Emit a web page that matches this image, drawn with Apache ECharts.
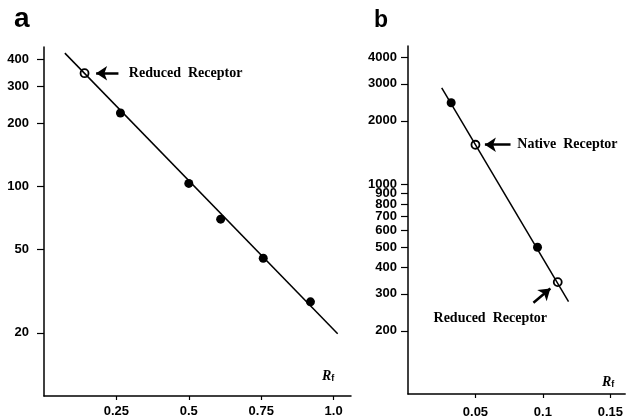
<!DOCTYPE html>
<html>
<head>
<meta charset="utf-8">
<script src="https://cdn.jsdelivr.net/npm/echarts@6/dist/echarts.min.js"></script>
<style>
  html, body { margin: 0; padding: 0; background: #fff; }
  #chart { width: 626px; height: 419px; }
</style>
</head>
<body>
<div id="chart"></div>
<script>
// panel a: Rf vs molecular weight (log)
const rfA = [0.264, 0.50, 0.61, 0.757, 0.92];
const mwA = [223, 103, 69.6, 45.3, 28.1];
const rfAOpen = [0.14];
const mwAOpen = [345];
const fitRfA = [0.072, 1.014];
const fitMwA = [430, 19.8];
const yTicksA = [20, 50, 100, 200, 300, 400];
const xTicksA = [0.25, 0.5, 0.75, 1.0];

// panel b
const rfB = [0.032, 0.096];
const mwB = [2437, 500];
const rfBOpen = [0.050, 0.111];
const mwBOpen = [1538, 341];
const fitRfB = [0.025, 0.119];
const fitMwB = [2870, 275];
const yTicksB = [200, 300, 400, 500, 600, 700, 800, 900, 1000, 2000, 3000, 4000];
const xTicksB = [0.05, 0.1, 0.15];

const zip = (a, b) => a.map((v, i) => [v, b[i]]);

const labelFont = {
    color: '#000',
    fontFamily: 'Liberation Sans',
    fontWeight: 'bold',
    fontSize: 13
};
const noteFont = {
    color: '#000',
    fontFamily: 'Liberation Serif',
    fontWeight: 'bold',
    fontSize: 14
};
const axisLine = {show: true, onZero: false, lineStyle: {color: '#000', width: 1.5}};

function xAxis(grid, max, ticks, margin) {
    return {
        type: 'value', gridIndex: grid, min: 0, max: max,
        axisLine: axisLine,
        splitLine: {show: false},
        axisTick: {show: true, length: 4, lineStyle: {color: '#000', width: 1.2}, customValues: ticks},
        axisLabel: Object.assign({
            margin: margin,
            customValues: ticks,
            formatter: v => (v === 1 ? '1.0' : String(v))
        }, labelFont)
    };
}
function yAxis(grid, min, max, ticks, margin) {
    return {
        type: 'log', logBase: 10, gridIndex: grid, min: min, max: max,
        axisLine: axisLine,
        splitLine: {show: false},
        minorTick: {show: false},
        axisTick: {show: true, length: 7, lineStyle: {color: '#000', width: 1.2}, customValues: ticks},
        axisLabel: Object.assign({margin: margin, customValues: ticks, formatter: v => String(v)}, labelFont)
    };
}

const arrowStyle = {
    silent: true,
    symbol: ['none', 'arrow'],
    symbolSize: 11,
    lineStyle: {color: '#000', width: 2.5, type: 'solid'},
    itemStyle: {color: '#000'},
    label: {show: false}
};
const rfText = {
    text: '{r|R}{s|f}',
    rich: {
        r: {fontFamily: 'Liberation Serif', fontStyle: 'italic', fontWeight: 'bold', fontSize: 14, fill: '#000'},
        s: {fontFamily: 'Liberation Sans', fontWeight: 'bold', fontSize: 9, fill: '#000', padding: [6, 0, 0, 0]}
    }
};

const chart = echarts.init(document.getElementById('chart'));
chart.setOption({
    animation: false,
    backgroundColor: '#fff',
    grid: [
        {left: 44, top: 47, width: 307, height: 349},
        {left: 408, top: 46, width: 218, height: 348}
    ],
    xAxis: [xAxis(0, 1.06, xTicksA, 9), xAxis(1, 0.161, xTicksB, 12)],
    yAxis: [yAxis(0, 10, 460, yTicksA, 15), yAxis(1, 100, 4540, yTicksB, 11)],
    graphic: [
        {type: 'text', left: 14, top: 5, style: {text: 'a', fill: '#000', font: 'bold 28px "Liberation Sans"'}},
        {type: 'text', left: 374, top: 9, style: {text: 'b', fill: '#000', font: 'bold 23px "Liberation Sans"'}},
        {type: 'text', left: 322, top: 369, style: rfText},
        {type: 'text', left: 602, top: 375, style: rfText}
    ],
    series: [
        {
            type: 'line', xAxisIndex: 0, yAxisIndex: 0,
            data: zip(fitRfA, fitMwA), showSymbol: false,
            lineStyle: {color: '#000', width: 1.5}
        },
        {
            type: 'scatter', xAxisIndex: 0, yAxisIndex: 0,
            data: zip(rfA, mwA), symbolSize: 9,
            itemStyle: {color: '#000', opacity: 1}
        },
        {
            type: 'scatter', xAxisIndex: 0, yAxisIndex: 0,
            data: zip(rfAOpen, mwAOpen), symbolSize: 8,
            itemStyle: {color: '#fff', borderColor: '#000', borderWidth: 1.8, opacity: 1},
            markLine: Object.assign({data: [[{coord: [0.257, 345]}, {coord: [0.180, 345]}]]}, arrowStyle),
            markPoint: {
                silent: true, symbol: 'circle', symbolSize: 0,
                data: [{coord: [0.293, 345], label: Object.assign({show: true, position: 'right', distance: 0, formatter: 'Reduced  Receptor'}, noteFont)}]
            }
        },
        {
            type: 'line', xAxisIndex: 1, yAxisIndex: 1,
            data: zip(fitRfB, fitMwB), showSymbol: false,
            lineStyle: {color: '#000', width: 1.5}
        },
        {
            type: 'scatter', xAxisIndex: 1, yAxisIndex: 1,
            data: zip(rfB, mwB), symbolSize: 9,
            itemStyle: {color: '#000', opacity: 1}
        },
        {
            type: 'scatter', xAxisIndex: 1, yAxisIndex: 1,
            data: zip(rfBOpen, mwBOpen), symbolSize: 8,
            itemStyle: {color: '#fff', borderColor: '#000', borderWidth: 1.8, opacity: 1},
            markLine: Object.assign({
                data: [
                    [{coord: [0.076, 1538]}, {coord: [0.057, 1538]}],
                    [{coord: [0.093, 272]}, {coord: [0.1055, 318]}]
                ]
            }, arrowStyle),
            markPoint: {
                silent: true, symbol: 'circle', symbolSize: 0,
                data: [
                    {coord: [0.081, 1538], label: Object.assign({show: true, position: 'right', distance: 0, formatter: 'Native  Receptor'}, noteFont)},
                    {coord: [0.061, 228], label: Object.assign({show: true, position: 'inside', formatter: 'Reduced  Receptor'}, noteFont)}
                ]
            }
        }
    ]
});
</script>
</body>
</html>
